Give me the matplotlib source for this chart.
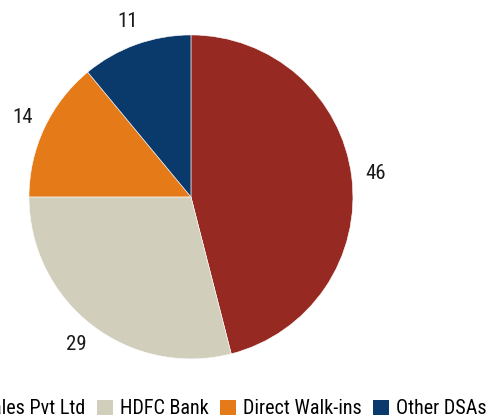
import matplotlib
matplotlib.use("Agg")
import matplotlib.pyplot as plt
from matplotlib.patches import Patch
from matplotlib import font_manager
import numpy as np

# prefer a condensed face if one is installed, else fall back to Liberation Sans
available = {f.name for f in font_manager.fontManager.ttflist}
narrow = [n for n in ['Roboto Condensed', 'Liberation Sans Narrow', 'Open Sans Condensed',
                      'DejaVu Sans Condensed', 'Noto Sans Condensed'] if n in available]
plt.rcParams['font.family'] = narrow[:1] + ['Liberation Sans', 'DejaVu Sans']
is_narrow = bool(narrow)

# data
sources = ['HDFC Sales Pvt Ltd', 'HDFC Bank', 'Direct Walk-ins', 'Other DSAs']
shares = [46, 29, 14, 11]
colors = ['#962A22', '#D2CEBC', '#E57A19', '#0A3A6B']

fig = plt.figure(figsize=(4.96, 4.19), dpi=100)
ax = fig.add_axes([0.385 - 0.3266, 0.53 - 0.3866, 0.6532, 0.7732])

wedges, _ = ax.pie(shares, colors=colors, startangle=90, counterclock=False,
                   wedgeprops=dict(edgecolor='white', linewidth=0.4))
ax.set_xlim(-1, 1)
ax.set_ylim(-1, 1)
ax.set_aspect('equal')

# value labels, centred just outside each wedge
for w, v in zip(wedges, shares):
    ang = np.deg2rad((w.theta1 + w.theta2) / 2)
    ax.text(1.15 * np.cos(ang), 1.15 * np.sin(ang), str(v), ha='center', va='center',
            fontsize=15 if is_narrow else 13.5, color='#1a1a1a')

handles = [Patch(facecolor=c, edgecolor='none') for c in colors]
fig.legend(handles, sources, loc='lower right', bbox_to_anchor=(0.997, -0.018),
           ncol=4, frameon=False, fontsize=14.5 if is_narrow else 13,
           handlelength=0.8, handleheight=0.8,
           handletextpad=0.35, columnspacing=0.55, borderaxespad=0)

fig.savefig('out.png', dpi=100)
